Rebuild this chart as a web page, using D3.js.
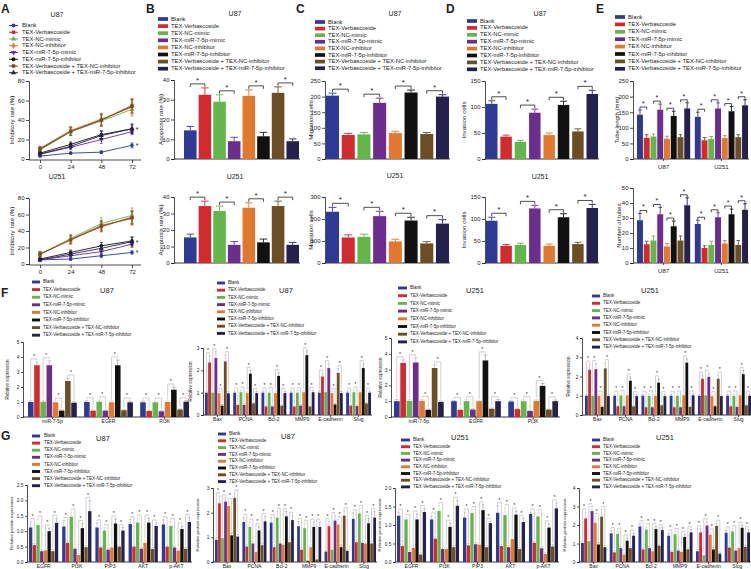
<!DOCTYPE html>
<html><head><meta charset="utf-8">
<script src="https://cdn.jsdelivr.net/npm/d3@7"></script>
<style>body{margin:0;background:#fff}svg{display:block}text{font-family:"Liberation Sans",Arial,sans-serif;fill:#222}</style>
</head><body><svg id="c" width="751" height="569"></svg>
<script>
const seriesNames = ["Blank","TEX-Verbascoside","TEX-NC-mimic","TEX-miR-7-5p-mimic","TEX-NC-inhibitor","TEX-miR-7-5p-inhibitor","TEX-Verbascoside + TEX-NC-inhibitor","TEX-Verbascoside + TEX-miR-7-5p-inhibitor"];
const seriesColors = ["#2e3a94","#d12a2f","#62b64a","#6c2d8f","#e1782d","#111111","#6b4e24","#25214f"];
const legendOrderA = [0,1,2,4,3,5,6,7];
const timePoints = [0,24,48,72];
const inhibTicks = [0,20,40,60,80];
// Panel A (rows follow seriesNames order)
const inhibU87 = [[3,6,7,14],[11,29,40,55],[9,28,39,51],[5,12,20,28],[10,29,41,53],[6,15,25,31],[10,28,40,54],[5,13,24,31]];
const inhibU87Err = [[1,1,1.5,2.5],[2,4,6,7],[2,4,6,7],[1.5,2.5,4,3],[2,4,6,7],[1.5,2.5,4,5],[2,4,6,7],[1.5,2.5,4,4]];
const inhibU251 = [[5,6,10,14],[12,30,45,57],[11,31,49,59],[5,10,15,24],[12,30,47,55],[6,14,22,28],[12,29,46,56],[5,12,19,27]];
const inhibU251Err = [[1.5,1.5,2,2],[3,5,6,8],[3,5,7,9],[1.5,2,3,4],[3,5,6,8],[1.5,3,4,5],[3,5,6,8],[1.5,2.5,4,5]];
// Panel B
const apopU87 = [14.5,32.5,29,9,32,11.5,33.5,9];
const apopU87Err = [2,3.5,3.5,2,3,2,3,1.2];
const apopU251 = [15.5,34.5,31.5,11,33.5,12.5,34.5,11];
const apopU251Err = [2,3,3,2,3,2,3,1.5];
// Panel C
const migU87 = [203,77,79,180,83,213,80,200];
const migU87Err = [8,5,6,15,6,8,5,6];
const migU251 = [233,116,119,213,98,193,89,179];
const migU251Err = [20,12,12,22,10,15,8,18];
// Panel D
const invU87 = [106,43,33,89,46,104,53,125];
const invU87Err = [6,3,3,7,4,7,5,7];
const invU251 = [96,39,41,124,39,104,43,125];
const invU251Err = [8,3,4,7,4,8,4,8];
// Panel E
const cellLines = ["U87","U251"];
const tubeLength = [[142,68,72,158,65,138,70,162],[135,60,64,162,67,153,70,172]];
const tubeLengthErr = [[15,10,8,18,8,15,8,18],[15,9,8,18,8,15,8,18]];
const tubeNumber = [[28.5,12.5,15,32.5,11,24.5,15,38.5],[26,10,12,30.5,13,32.5,12,35.5]];
const tubeNumberErr = [[4.5,2,3,4.5,2,3.5,3,5],[2.5,1.5,2.5,3,2,3.5,3,4]];
// Panel F
const catsMiR = ["miR-7-5p","EGFR","PI3K"];
const catsGenes = ["Bax","PCNA","Bcl-2","MMP9","E-cadherin","Slug"];
const fU87a = [[1.0,3.45,1.02,3.45,0.98,0.42,2.4,0.95],[1.0,0.42,1.02,0.42,0.98,3.45,0.45,0.98],[0.98,0.40,0.98,0.38,1.0,1.82,0.5,1.02]];
const fU87aErr = [[0.08,0.22,0.1,0.3,0.08,0.05,0.2,0.06],[0.08,0.05,0.12,0.05,0.08,0.35,0.05,0.08],[0.08,0.05,0.08,0.04,0.06,0.18,0.05,0.06]];
const fU87b = [[1.0,2.35,1.0,2.55,0.97,0.42,2.4,0.97],[1.0,0.45,1.02,0.45,0.98,1.85,0.52,0.98],[1.0,0.38,1.0,0.38,0.98,1.75,0.42,0.98],[1.0,0.38,1.0,0.42,1.02,2.68,0.38,1.02],[1.0,1.72,1.02,2.1,0.98,0.47,1.88,0.98],[1.0,0.42,1.02,0.4,1.02,2.1,0.52,1.0]];
const fU87bErr = [[0.08,0.3,0.1,0.3,0.08,0.05,0.3,0.08],[0.08,0.05,0.1,0.05,0.08,0.15,0.05,0.08],[0.08,0.05,0.1,0.05,0.08,0.15,0.05,0.08],[0.08,0.05,0.1,0.05,0.08,0.2,0.05,0.08],[0.08,0.15,0.1,0.2,0.08,0.05,0.2,0.08],[0.08,0.05,0.1,0.05,0.08,0.2,0.05,0.08]];
const fU251a = [[1.0,3.42,1.02,3.45,1.02,0.45,3.1,0.95],[1.0,0.45,1.0,0.47,1.0,3.58,0.52,1.0],[0.98,0.5,1.0,0.38,1.02,1.97,0.47,1.0]];
const fU251aErr = [[0.1,0.2,0.08,0.3,0.1,0.05,0.2,0.06],[0.05,0.05,0.1,0.05,0.06,0.35,0.05,0.1],[0.05,0.05,0.1,0.05,0.1,0.15,0.04,0.08]];
const fU251b = [[1.0,2.35,1.0,2.38,1.0,0.42,2.42,0.98],[1.0,0.45,1.02,0.45,1.02,1.78,0.45,0.98],[1.0,0.4,1.0,0.4,1.0,1.68,0.5,0.98],[1.0,0.4,1.0,0.4,1.02,2.72,0.42,1.02],[1.0,1.88,1.02,1.98,0.98,0.45,1.88,0.98],[1.0,0.45,1.0,0.42,1.02,2.12,0.5,1.0]];
const fU251bErr = [[0.08,0.3,0.1,0.3,0.08,0.05,0.3,0.08],[0.08,0.05,0.1,0.05,0.08,0.2,0.05,0.08],[0.08,0.05,0.1,0.05,0.08,0.2,0.05,0.08],[0.08,0.05,0.1,0.05,0.08,0.2,0.05,0.08],[0.08,0.2,0.1,0.2,0.08,0.05,0.2,0.08],[0.08,0.05,0.1,0.05,0.08,0.2,0.05,0.08]];
// Panel G
const catsPath = ["EGFR","PI3K","PIP3","AKT","p-AKT"];
const gU87a = [[1.12,0.55,1.2,0.35,0.38,1.0,0.35,1.27],[1.15,0.62,1.47,0.43,0.23,1.1,0.48,1.65],[1.12,0.47,1.02,0.4,0.47,1.25,0.5,1.02],[1.23,0.5,1.28,0.43,0.62,1.28,0.42,1.17],[1.22,0.5,1.17,0.47,0.37,1.07,0.43,1.3]];
const gU87aErr = [[0.2,0.05,0.2,0.05,0.05,0.1,0.05,0.15],[0.2,0.1,0.15,0.05,0.05,0.15,0.05,0.35],[0.15,0.05,0.1,0.05,0.05,0.15,0.05,0.1],[0.15,0.05,0.15,0.05,0.1,0.15,0.05,0.1],[0.15,0.05,0.15,0.05,0.05,0.1,0.05,0.15]];
const gU87b = [[0.9,2.38,0.97,2.45,2.27,1.08,2.6,1.03],[1.62,0.63,1.42,0.75,0.4,1.28,0.68,1.65],[1.6,0.6,1.8,0.75,0.7,1.85,0.8,1.7],[1.45,0.5,1.37,0.05,0.6,1.42,0.1,1.42],[0.42,1.45,0.5,1.68,1.52,0.6,1.88,0.45],[1.75,0.8,1.97,0.78,0.75,1.57,0.75,1.8]];
const gU87bErr = [[0.1,0.3,0.1,0.15,0.2,0.1,0.2,0.1],[0.2,0.1,0.2,0.1,0.05,0.15,0.1,0.2],[0.2,0.1,0.25,0.1,0.1,0.2,0.1,0.2],[0.2,0.1,0.2,0.02,0.1,0.2,0.02,0.2],[0.05,0.2,0.1,0.2,0.2,0.1,0.2,0.05],[0.25,0.1,0.2,0.1,0.1,0.2,0.1,0.25]];
const gU251a = [[1.25,0.43,1.15,0.27,0.38,1.15,0.2,1.35],[1.15,0.63,1.38,0.35,0.35,0.95,0.4,1.52],[1.2,0.45,1.32,0.48,0.47,1.4,0.4,1.05],[1.33,0.43,1.27,0.4,0.62,1.28,0.35,1.08],[1.3,0.52,1.23,0.37,0.22,0.93,0.42,1.45]];
const gU251aErr = [[0.1,0.15,0.05,0.05,0.05,0.15,0.05,0.1],[0.1,0.05,0.15,0.05,0.05,0.1,0.05,0.15],[0.15,0.05,0.1,0.05,0.05,0.15,0.05,0.05],[0.2,0.05,0.2,0.05,0.05,0.1,0.05,0.1],[0.05,0.05,0.1,0.05,0.05,0.1,0.05,0.15]];
const gU251b = [[1.03,2.35,1.12,2.75,2.12,0.95,2.45,0.8],[1.55,0.52,1.52,0.75,0.4,1.15,0.75,1.42],[1.92,0.68,1.75,0.75,0.58,1.78,0.88,1.72],[1.42,0.55,1.5,0.62,0.55,1.35,0.68,1.6],[0.58,1.6,0.35,1.97,1.48,0.68,1.95,0.45],[1.58,0.78,1.65,0.62,0.75,1.85,0.82,1.6]];
const gU251bErr = [[0.1,0.35,0.15,0.25,0.35,0.1,0.4,0.1],[0.15,0.1,0.15,0.1,0.1,0.15,0.1,0.15],[0.15,0.1,0.15,0.1,0.1,0.15,0.1,0.15],[0.15,0.1,0.15,0.1,0.1,0.15,0.1,0.15],[0.1,0.2,0.05,0.2,0.15,0.1,0.15,0.1],[0.15,0.1,0.15,0.1,0.1,0.15,0.1,0.15]];
const pairs = [[0,1],[2,3],[4,5],[6,7]];

const svg = d3.select("#c");
svg.append("rect").attr("width",751).attr("height",569).attr("fill","#fff");

function txt(x,y,s,size,opt={}){
  const t = svg.append("text").attr("x",x).attr("y",y).text(s).style("font-size",size+"px")
    .attr("text-anchor",opt.anchor||"start").attr("dominant-baseline",opt.base||"middle");
  if(opt.bold) t.style("font-weight","bold");
  if(opt.rot) t.attr("transform",`rotate(-90,${x},${y})`);
  return t;
}
function legend(x,y0,dy,size,sw,opt={}){
  const order = opt.order || d3.range(8);
  order.forEach((s,i)=>{
    const y = y0+i*dy;
    if(opt.marker){
      svg.append("line").attr("x1",x).attr("x2",x+sw).attr("y1",y).attr("y2",y).attr("stroke",seriesColors[s]).attr("stroke-width",1);
      svg.append("path").attr("d",symFor(s,12)).attr("transform",`translate(${x+sw/2},${y})${s===3?" rotate(180)":""}`).attr("fill",seriesColors[s]);
    } else {
      svg.append("rect").attr("x",x).attr("y",y-size*0.32).attr("width",sw).attr("height",size*0.64).attr("fill",seriesColors[s]);
    }
    txt(x+sw+(opt.gap||3),y,seriesNames[s],size);
  });
}
function symFor(s,size){
  const types=[d3.symbolCircle,d3.symbolSquare,d3.symbolTriangle,d3.symbolTriangle,d3.symbolDiamond,d3.symbolCircle,d3.symbolSquare,d3.symbolTriangle];
  return d3.symbol().type(types[s]).size(size)();
}
function yAxis(x,y,ticks,fmt,fs,tl){
  const g = svg.append("g").attr("transform",`translate(${x},0)`)
    .call(d3.axisLeft(y).tickValues(ticks).tickFormat(fmt).tickSize(tl).tickPadding(1.5));
  g.selectAll("text").style("font-size",fs+"px").style("font-family",'"Liberation Sans",Arial,sans-serif').attr("fill","#222");
  g.selectAll("line,path").attr("stroke","#222").attr("stroke-width",0.8);
  return g;
}

function linePanel(o){
  const x = d3.scaleLinear().domain([0,72]).range([40,132]);
  const y = d3.scaleLinear().domain([0,80]).range([o.yBot,o.yTop]);
  yAxis(29,y,inhibTicks,d3.format("d"),6,3);
  const gx = svg.append("g").attr("transform",`translate(0,${o.yBot+1})`)
    .call(d3.axisBottom(x).tickValues(timePoints).tickSize(3).tickPadding(1.5));
  gx.select(".domain").attr("d",`M29,0H141`);
  gx.selectAll("text").style("font-size","6px").style("font-family",'"Liberation Sans",Arial,sans-serif');
  gx.selectAll("line,path").attr("stroke","#222").attr("stroke-width",0.8);
  o.data.forEach((row,s)=>{
    const c = seriesColors[s];
    svg.append("path").datum(row).attr("fill","none").attr("stroke",c).attr("stroke-width",0.9)
      .attr("d",d3.line().x((d,i)=>x(timePoints[i])).y(d=>y(d)));
    row.forEach((v,i)=>{
      const e=o.err[s][i], px=x(timePoints[i]);
      svg.append("path").attr("d",`M${px},${y(v-e)}V${y(v+e)}M${px-1.5},${y(v-e)}H${px+1.5}M${px-1.5},${y(v+e)}H${px+1.5}`).attr("stroke",c).attr("stroke-width",0.7).attr("fill","none");
      svg.append("path").attr("d",symFor(s,10)).attr("transform",`translate(${px},${y(v)})${s===3?" rotate(180)":""}`).attr("fill",c);
    });
  });
  o.stars.forEach(v=>txt(x(72)+5,y(v)+1,"*",7,{anchor:"middle"}));
  txt(12,(o.yTop+o.yBot)/2,"Inhibitory rate (%)",6.2,{anchor:"middle",rot:true});
}

function barPanel(o){
  const y = d3.scaleLinear().domain([0,o.max]).range([o.yBot,o.yTop]);
  yAxis(o.x0,y,o.ticks,o.fmt||d3.format("d"),o.fs,o.tl||3);
  svg.append("line").attr("x1",o.x0).attr("x2",o.x1).attr("y1",o.yBot).attr("y2",o.yBot).attr("stroke","#222").attr("stroke-width",0.9);
  const gx = d3.scaleBand().domain(d3.range(o.values.length)).range([o.gStart,o.gEnd]).paddingInner(o.gPad);
  const bx = d3.scaleBand().domain(d3.range(8)).range([0,gx.bandwidth()]).paddingInner(o.bPad);
  const bw = bx.bandwidth();
  o.values.forEach((vals,gi)=>{
    const gx0 = gx(gi);
    vals.forEach((v,s)=>{
      const e = o.errs[gi][s];
      const bxp = gx0+bx(s);
      svg.append("rect").attr("x",bxp).attr("y",y(v)).attr("width",bw).attr("height",o.yBot-y(v)).attr("fill",seriesColors[s]);
      const cx = bxp+bw/2, cw = o.light? bw*0.35 : bw*0.3;
      svg.append("path").attr("d",`M${cx},${y(v)}V${y(v+e)}M${cx-cw},${y(v+e)}H${cx+cw}`)
        .attr("stroke",seriesColors[s]).attr("stroke-opacity",o.light?0.35:1).attr("stroke-width",o.light?0.8:0.9).attr("fill","none");
    });
    pairs.forEach(([a,b])=>{
      const xa = gx0+bx(a)+bw/2, xb = gx0+bx(b)+bw/2;
      const ta = y(vals[a]+o.errs[gi][a]), tb = y(vals[b]+o.errs[gi][b]);
      const top = Math.min(ta,tb)-o.bgap;
      let la, lb;
      if(o.light){ la = ta-1.5; lb = tb-1.5; } else { la = top+o.leg; lb = top+o.leg; }
      svg.append("path").attr("d",`M${xa},${la}V${top}H${xb}V${lb}`).attr("fill","none")
        .attr("stroke",o.light?"#bbb":"#222").attr("stroke-width",o.light?0.7:0.8);
      txt((xa+xb)/2,top-o.starSize*0.15,"*",o.starSize,{anchor:"middle",base:"auto"});
    });
    if(o.cats){
      const cx = gx0+gx.bandwidth()/2;
      svg.append("line").attr("x1",cx).attr("x2",cx).attr("y1",o.yBot).attr("y2",o.yBot+2).attr("stroke","#222").attr("stroke-width",0.8);
      txt(cx,o.yBot+o.catDy,o.cats[gi],o.catFs,{anchor:"middle"});
    }
  });
  if(o.ylabel) txt(o.ylx,(o.yTop+o.yBot)/2,o.ylabel,o.ylfs,{anchor:"middle",rot:true});
}

// ---------- Panel letters ----------
[["A",1,10],["B",146,10],["C",296,10],["D",446,10],["E",596,10],["F",1,294],["G",1,437]].forEach(([l,x,y])=>txt(x,y,l,12,{bold:true}));

// ---------- A ----------
txt(57,15,"U87",7,{anchor:"middle"});
legend(9,25.5,6.75,5.8,9,{marker:true,order:legendOrderA,gap:4});
linePanel({yTop:81,yBot:159,data:inhibU87,err:inhibU87Err,stars:[31,14]});
txt(57,177,"U251",7,{anchor:"middle"});
linePanel({yTop:198,yBot:264,data:inhibU251,err:inhibU251Err,stars:[27,14]});

// ---------- B ----------
const oneGroup = v=>[v];
txt(235,14,"U87",7,{anchor:"middle"});
legend(158,19,7.1,5.8,10);
const bCommon = {x0:174,x1:300,max:40,ticks:[0,10,20,30,40],fs:6,gStart:184,gEnd:299,gPad:0,bPad:0.14,bgap:4,leg:3,starSize:8,ylabel:"Apoptosis rate (%)",ylx:161,ylfs:6.2};
barPanel({...bCommon,yTop:80,yBot:159,values:oneGroup(apopU87),errs:oneGroup(apopU87Err)});
txt(235,177,"U251",7,{anchor:"middle"});
barPanel({...bCommon,yTop:197,yBot:263,values:oneGroup(apopU251),errs:oneGroup(apopU251Err)});

// ---------- C ----------
txt(395,14,"U87",7,{anchor:"middle"});
legend(315,22,6.6,5.8,10);
const cCommon = {x0:325,x1:450,fs:6,gStart:326,gEnd:449,gPad:0,bPad:0.17,bgap:4,leg:3,starSize:8,ylabel:"Migration cells",ylx:311,ylfs:6.2};
barPanel({...cCommon,yTop:81,yBot:159,max:250,ticks:[0,50,100,150,200,250],values:oneGroup(migU87),errs:oneGroup(migU87Err)});
txt(395,176,"U251",7,{anchor:"middle"});
barPanel({...cCommon,yTop:197,yBot:263,max:300,ticks:[0,100,200,300],values:oneGroup(migU251),errs:oneGroup(migU251Err)});

// ---------- D ----------
txt(540,14,"U87",7,{anchor:"middle"});
legend(467,21,6.9,5.8,10);
const dCommon = {x0:485,x1:599,max:150,ticks:[0,50,100,150],fs:6,gStart:486,gEnd:598,gPad:0,bPad:0.2,bgap:4,leg:3,starSize:8,ylabel:"Invasion cells",ylx:464,ylfs:6.2};
barPanel({...dCommon,yTop:81,yBot:159,values:oneGroup(invU87),errs:oneGroup(invU87Err)});
txt(540,177,"U251",7,{anchor:"middle"});
barPanel({...dCommon,yTop:197,yBot:263,values:oneGroup(invU251),errs:oneGroup(invU251Err)});

// ---------- E ----------
legend(615,17,7.4,5.8,10);
const eCommon = {x0:633,x1:749,fs:6,gStart:637,gEnd:748,gPad:0.08,bPad:0.12,bgap:3,leg:2.5,starSize:7,cats:cellLines,catDy:8,catFs:6,ylfs:6};
barPanel({...eCommon,yTop:81,yBot:159,max:250,ticks:[0,50,100,150,200,250],values:tubeLength,errs:tubeLengthErr,ylabel:"Tube length (mm)",ylx:617});
barPanel({...eCommon,yTop:188,yBot:263,max:50,ticks:[0,10,20,30,40,50],values:tubeNumber,errs:tubeNumberErr,ylabel:"Number of tubes",ylx:619});

// ---------- F ----------
const smallCommon = {fs:4.8,tl:2,gPad:0.12,bPad:0.1,bgap:3,starSize:5,light:true,catDy:5,catFs:5,ylabel:"Relative expression",ylfs:4.6};
txt(107,291,"U87",7.5,{anchor:"middle"});
legend(32,282,7.6,4.5,8);
barPanel({...smallCommon,x0:23,x1:190,yTop:342,yBot:417,max:5,ticks:[0,1,2,3,4,5],gStart:28,gEnd:189,gPad:0.13,values:fU87a,errs:fU87aErr,cats:catsMiR,ylx:8});
txt(286,291,"U87",7.5,{anchor:"middle"});
legend(217,283,7.2,4.5,8);
barPanel({...smallCommon,x0:203,x1:372,yTop:348,yBot:415,max:3,ticks:[0,1,2,3],gStart:205,gEnd:371,values:fU87b,errs:fU87bErr,cats:catsGenes,ylx:191});
txt(475,291,"U251",7.5,{anchor:"middle"});
legend(398,288,7.7,4.5,9);
barPanel({...smallCommon,x0:391,x1:560,yTop:338,yBot:417,max:5,ticks:[0,1,2,3,4,5],gStart:394,gEnd:558,gPad:0.13,values:fU251a,errs:fU251aErr,cats:catsMiR,ylx:381});
txt(650,291,"U251",7.5,{anchor:"middle"});
legend(592,296,7.3,4.5,8);
barPanel({...smallCommon,x0:582,x1:751,yTop:338,yBot:415,max:4,ticks:[0,1,2,3,4],gStart:585,gEnd:751,values:fU251b,errs:fU251bErr,cats:catsGenes,ylx:569});

// ---------- G ----------
const gCommon = {...smallCommon,ylabel:"Relative protein expression",ylfs:4.4};
txt(103,439,"U87",7.5,{anchor:"middle"});
legend(32,436,7.1,4.5,8,{gap:4});
barPanel({...gCommon,x0:27,x1:192,yTop:485,yBot:562,max:2.5,ticks:[0,0.5,1,1.5,2,2.5],fmt:d3.format(".1f"),gStart:29,gEnd:191,values:gU87a,errs:gU87aErr,cats:catsPath,ylx:12});
txt(288,437,"U87",7.5,{anchor:"middle"});
legend(218,434,6.8,4.5,8);
barPanel({...gCommon,x0:213,x1:377,yTop:488,yBot:562,max:3,ticks:[0,1,2,3],gStart:215,gEnd:376,values:gU87b,errs:gU87bErr,cats:catsGenes,ylx:198});
txt(460,438,"U251",7.5,{anchor:"middle"});
legend(401,440,6.7,4.5,9);
barPanel({...gCommon,x0:395,x1:559,yTop:488,yBot:562,max:2,ticks:[0,0.5,1,1.5,2],fmt:d3.format(".1f"),gStart:397,gEnd:558,values:gU251a,errs:gU251aErr,cats:catsPath,ylx:380});
txt(665,438,"U251",7.5,{anchor:"middle"});
legend(592,440,6.7,4.5,8);
barPanel({...gCommon,x0:579,x1:751,yTop:488,yBot:562,max:4,ticks:[0,1,2,3,4],gStart:581,gEnd:750,values:gU251b,errs:gU251bErr,cats:catsGenes,ylx:565});
</script></body></html>
